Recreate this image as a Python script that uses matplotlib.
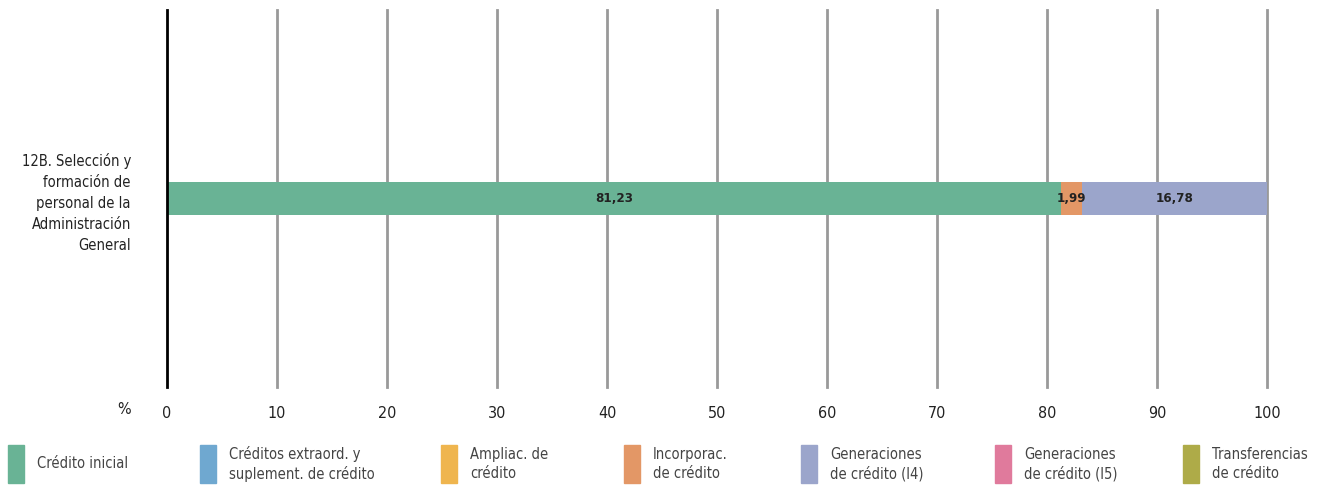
import matplotlib.pyplot as plt
from matplotlib.patches import Rectangle

# data
category = "12B. Selección y\nformación de\npersonal de la\nAdministración\nGeneral"
series = ["Crédito inicial", "Créditos extraord. y\nsuplement. de crédito", "Ampliac. de\ncrédito",
          "Incorporac.\nde crédito", "Generaciones\nde crédito (I4)", "Generaciones\nde crédito (I5)",
          "Transferencias\nde crédito"]
values = [81.23, 0, 0, 1.99, 16.78, 0, 0]
labels = ["81,23", "", "", "1,99", "16,78", "", ""]
colors = ["#69B395", "#6FA8D0", "#EFB54E", "#E39766", "#9BA5CB", "#E07A9C", "#AEAB48"]
ticks = [0, 10, 20, 30, 40, 50, 60, 70, 80, 90, 100]

plt.rcParams['font.family'] = ['DejaVu Sans']
plt.rcParams['font.stretch'] = 'condensed'

fig = plt.figure(figsize=(13.17, 4.87), dpi=100)
ax = fig.add_axes([167/1317, 1-387/487, 1100/1317, 377/487])

left = 0
for v, lab, c in zip(values, labels, colors):
    if v > 0:
        ax.barh(0, v, left=left, height=0.09, color=c, zorder=3)
        ax.text(left + v/2, 0, lab, ha='center', va='center', fontsize=9.5,
                fontweight='bold', color='#222222', zorder=4)
    left += v

ax.set_xlim(0, 100)
ax.set_ylim(-0.5, 0.5)
for t in ticks[1:]:
    ax.axvline(t, color='#999999', lw=2, zorder=1, clip_on=False)
ax.axvline(0, color='black', lw=2, zorder=5, clip_on=False)
for s in ax.spines.values():
    s.set_visible(False)
ax.set_xticks(ticks)
ax.set_xticklabels([str(t) for t in ticks], fontsize=11.5, color='#222222')
ax.tick_params(axis='x', length=0, pad=14)
ax.set_yticks([0])
ax.set_yticklabels([category], fontsize=10.5, color='#222222', linespacing=1.5)
ax.tick_params(axis='y', length=0, pad=26)
fig.text(131/1317, 1-410/487, "%", ha='right', va='center', fontsize=11.5, color='#222222')

# legend
xs = [8, 200, 441, 624, 801, 995, 1183]
for x, name, c in zip(xs, series, colors):
    fig.patches.append(Rectangle((x/1317, 1-483/487), 16/1317, 38/487,
                                 transform=fig.transFigure, color=c))
    fig.text((x+29)/1317, 1-464/487, name, ha='left', va='center', fontsize=10.5,
             color='#444444', linespacing=1.3)

fig.savefig("out.png", dpi=100)
